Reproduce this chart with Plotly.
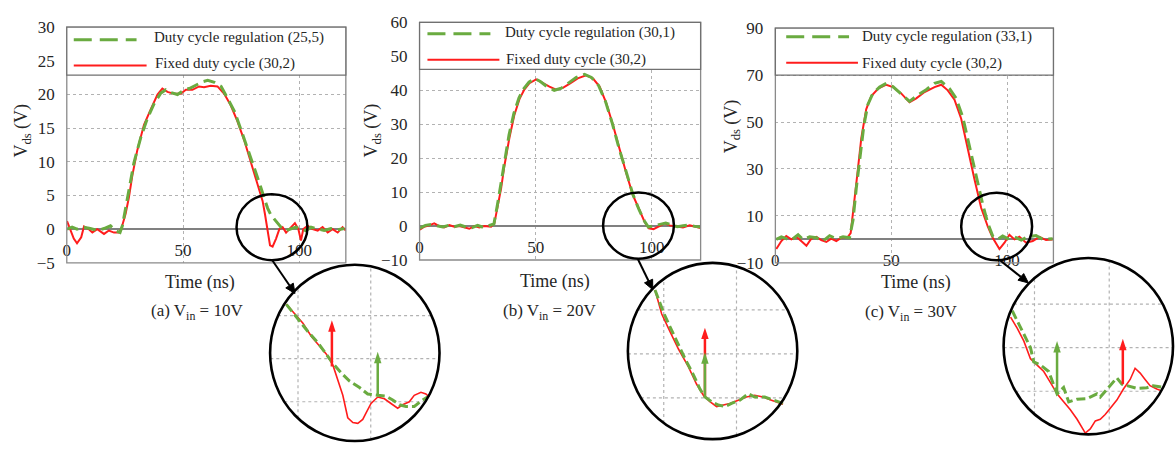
import plotly.graph_objects as go

# ---------------- data ----------------
x_ticks = [0, 50, 100]
y_ticks_a = [-5, 0, 5, 10, 15, 20, 25, 30]
y_ticks_b = [-10, 0, 10, 20, 30, 40, 50, 60]
y_ticks_c = [-10, 10, 30, 50, 70, 90]

legend_reg = ["Duty cycle regulation (25,5)", "Duty cycle regulation (30,1)", "Duty cycle regulation (33,1)"]
legend_fixed = "Fixed duty cycle (30,2)"
captions = ["(a) V<sub>in</sub> = 10V", "(b) V<sub>in</sub> = 20V", "(c) V<sub>in</sub> = 30V"]
x_title = "Time (ns)"
y_title = "V<sub>ds</sub> (V)"

# (a) Vin = 10 V
t_a_fixed = [0.1, 1.6, 3.0, 4.4, 6.2, 7.4, 9.5, 11.0, 13.1, 16.0, 18.1, 20.3, 22.4, 23.4, 25.3, 26.7, 28.2, 30.3, 33.2, 36.1,
             39.0, 41.1, 43.3, 46.2, 49.0, 51.2, 54.0, 56.9, 59.0, 61.9, 64.8, 67.7, 70.5, 73.4, 76.3, 79.2, 82.0, 84.2, 85.2, 86.4,
             87.4, 88.5, 90.0, 91.4, 92.8, 94.3, 96.4, 98.1, 99.6, 100.7, 101.7, 103.6, 105.7, 107.9, 110.0, 112.2, 114.3, 116.5, 118.6, 120.0]
v_a_fixed = [1.2, 0.0, -1.4, -2.1, -1.2, 0.4, 0.0, -0.5, 0.0, -0.7, -0.2, -0.5, -0.5, 0.0, 2.3, 4.7, 8.0, 11.7, 15.5, 17.8,
             20.0, 20.9, 20.4, 20.1, 20.1, 20.7, 20.7, 21.2, 21.1, 21.3, 21.2, 20.1, 18.4, 16.0, 13.2, 9.9, 6.6, 4.2, 2.3, -0.5,
             -2.4, -2.6, -1.4, 0.0, 0.3, -0.5, 0.3, 0.9, 0.0, -1.7, 0.0, 0.5, 0.0, -0.2, 0.3, -0.5, 0.0, -0.5, 0.3, -0.2]
t_a_reg = [0.1, 2.3, 4.4, 7.4, 10.1, 13.1, 16.0, 18.8, 21.0, 22.9, 23.9, 25.3, 26.7, 28.9, 31.8, 34.6, 37.5, 40.4, 42.6, 44.7,
           47.6, 50.5, 52.7, 55.5, 58.4, 60.6, 63.5, 66.4, 69.2, 72.1, 75.0, 77.9, 80.7, 82.9, 85.0, 86.4, 87.8, 90.0, 92.1, 94.3,
           96.4, 98.6, 100.7, 102.9, 105.0, 107.9, 110.7, 113.6, 116.5, 119.4]
v_a_reg = [0.0, 0.3, 0.0, 0.3, 0.1, -0.2, 0.1, 0.5, -0.2, -0.5, 0.5, 3.3, 6.1, 9.9, 13.6, 16.4, 18.6, 20.2, 20.7, 20.3,
           20.0, 20.7, 20.9, 21.4, 21.9, 22.1, 21.8, 21.2, 19.3, 17.5, 14.7, 11.9, 9.1, 6.8, 4.5, 3.1, 2.1, 1.2, 0.3, -0.2,
           0.0, 0.3, 0.0, -0.2, 0.3, 0.0, -0.2, 0.1, -0.1, 0.1]

# (b) Vin = 20 V
t_b_fixed = [0.1, 2.0, 4.2, 6.3, 8.5, 10.6, 12.8, 14.9, 17.1, 19.3, 21.4, 23.6, 25.7, 27.9, 30.8, 32.2, 33.6, 35.1, 36.5, 38.7,
             40.8, 43.0, 45.1, 47.3, 50.2, 53.0, 55.9, 58.8, 61.7, 64.5, 68.1, 71.7, 74.6, 77.5, 80.3, 83.2, 86.1, 88.9, 91.8, 94.7,
             96.9, 98.7, 100.7, 103.3, 105.5, 107.6, 110.5, 113.4, 116.3, 119.1, 121.0]
v_b_fixed = [-1.1, -0.2, 0.2, 0.8, 0.0, -0.4, 0.3, -0.2, 0.0, -0.4, -0.8, 0.0, -0.4, 0.0, -0.2, 0.8, 5.4, 11.1, 17.7, 26.1,
             32.7, 37.4, 40.2, 42.1, 43.2, 42.1, 41.1, 40.2, 40.7, 41.9, 43.5, 44.4, 43.5, 41.1, 36.4, 29.9, 22.3, 15.8, 9.2, 4.5,
             1.2, -0.7, -0.9, 0.0, 0.8, 0.2, -0.2, -0.4, 0.2, -0.2, -0.6]
t_b_reg = [0.1, 2.5, 5.0, 7.5, 10.0, 12.5, 15.0, 17.5, 20.0, 22.5, 25.0, 27.5, 30.0, 32.0, 33.4, 34.9, 36.3, 38.5, 40.6, 42.8,
           44.9, 47.1, 49.5, 52.0, 55.0, 58.0, 61.0, 64.0, 67.5, 71.0, 74.0, 77.0, 80.0, 83.0, 86.0, 89.0, 91.8, 94.5, 96.8, 98.5,
           101.0, 103.5, 106.0, 108.5, 111.0, 113.5, 116.0, 118.5, 121.0]
v_b_reg = [-0.6, 0.2, 0.5, 0.0, -0.3, 0.2, -0.2, 0.3, -0.3, -0.5, 0.2, -0.4, 0.1, 0.6, 5.8, 12.0, 18.5, 26.8, 33.2, 37.8,
           40.5, 42.4, 43.5, 42.6, 41.0, 40.0, 40.6, 42.0, 43.8, 44.7, 43.8, 41.5, 36.8, 30.2, 22.6, 15.9, 9.4, 4.8, 1.5, -0.3,
           0.2, 0.5, 0.9, 0.3, -0.2, 0.1, 0.3, -0.1, -0.3]

# (c) Vin = 30 V
t_c_fixed = [0.4, 2.6, 4.7, 6.9, 9.1, 11.2, 13.4, 15.5, 17.7, 19.8, 22.0, 24.1, 26.3, 28.5, 31.3, 32.5, 34.2, 35.6, 37.1, 39.2,
             41.4, 44.3, 47.9, 50.7, 54.3, 57.9, 60.8, 64.4, 68.7, 71.6, 74.4, 77.3, 80.2, 83.1, 85.9, 88.8, 91.7, 93.8, 96.7, 98.9,
             101.0, 103.2, 105.3, 108.2, 111.1, 114.0, 116.8, 119.7]
v_c_fixed = [-4.1, -0.7, 1.4, 0.0, 1.1, -0.7, -2.7, 0.3, 1.1, -0.3, -1.1, 0.3, -0.7, 0.7, 1.1, 2.7, 16.2, 29.7, 43.2, 55.4,
             61.1, 64.2, 65.9, 64.9, 62.2, 58.4, 60.1, 62.8, 64.9, 65.9, 63.5, 59.5, 51.4, 37.8, 25.7, 13.5, 5.4, 0.7, -4.1, -1.4,
             2.0, 0.0, 1.1, -1.4, -0.7, 1.1, -0.3, 0.0]
t_c_reg = [0.4, 2.6, 4.7, 6.9, 9.8, 11.9, 14.8, 17.7, 20.5, 23.4, 26.3, 29.2, 32.0, 33.5, 34.9, 36.4, 38.2, 39.9, 42.1, 45.0,
           47.9, 50.7, 54.3, 57.9, 61.5, 65.1, 68.7, 71.6, 75.2, 78.0, 80.9, 83.8, 86.7, 89.5, 91.7, 93.8, 96.0, 98.1, 100.3, 103.2,
           106.1, 108.9, 112.5, 115.4, 119.7]
v_c_reg = [0.0, 1.1, 0.3, -0.3, 2.0, 0.0, 1.1, 0.7, -0.7, 1.6, 0.3, 1.1, 0.7, 8.1, 21.6, 35.1, 48.6, 57.4, 62.2, 64.9,
           66.5, 65.1, 61.9, 58.8, 61.5, 63.8, 66.5, 67.3, 64.2, 60.1, 52.0, 39.2, 26.4, 14.9, 6.8, 1.4, 0.0, 1.4, 0.3, 1.1,
           -0.3, 1.1, 1.6, 0.0, 0.3]

# zoomed views (magnified turn-off region, nominal units)
zt_a_fixed = [84.20, 85.12, 85.34, 85.91, 86.49, 86.94, 87.40, 87.74, 88.08, 88.42, 88.77, 89.11, 89.45, 89.68, 90.02, 90.48,
              90.94, 91.39, 91.85, 92.19, 92.65, 92.99, 93.45, 93.79, 94.02]
zv_a_fixed = [2.26, 1.89, 1.82, 1.52, 1.30, 1.11, 0.85, 0.52, 0.15, -0.37, -0.48, -0.50, -0.41, -0.26, -0.04, 0.11,
              0.07, -0.04, -0.15, -0.07, 0.00, 0.15, 0.22, 0.18, 0.11]
zt_a_reg = [84.20, 84.88, 85.68, 86.37, 87.05, 87.40, 87.97, 88.54, 89.23, 89.79, 90.48, 91.05, 91.51, 91.97, 92.42, 92.99, 93.56, 93.90]
zv_a_reg = [2.26, 1.96, 1.63, 1.37, 1.04, 0.89, 0.67, 0.48, 0.33, 0.18, 0.15, 0.13, 0.04, -0.07, -0.11, -0.11, 0.04, 0.11]

zt_b_fixed = [94.40, 94.86, 95.43, 96.01, 96.69, 97.26, 97.72, 98.17, 98.63, 99.09, 99.54, 100.12, 100.68, 101.25, 101.83, 102.40, 103.20]
zv_b_fixed = [4.90, 3.81, 3.01, 2.22, 1.42, 0.62, 0.12, -0.17, -0.39, -0.32, -0.25, -0.10, 0.04, 0.12, 0.04, -0.10, -0.29]
zt_b_reg = [94.40, 94.98, 95.32, 95.89, 96.46, 97.03, 97.49, 97.83, 98.29, 98.75, 99.20, 99.66, 100.23, 100.80, 101.25, 101.94, 102.51, 103.20]
zv_b_reg = [4.90, 3.88, 3.38, 2.58, 1.78, 1.06, 0.40, 0.04, -0.17, -0.32, -0.39, -0.25, -0.10, 0.19, 0.04, 0.04, -0.10, -0.25]

zt_c_fixed = [93.40, 93.85, 94.29, 94.73, 95.18, 95.62, 96.07, 96.51, 96.95, 97.40, 97.85, 98.40, 98.73, 99.07, 99.40, 99.73,
              100.07, 100.51, 100.95, 101.40, 101.73, 102.07, 102.40, 102.73, 103.18, 103.40]
zv_c_fixed = [5.10, 4.33, 3.45, 2.24, 1.80, 1.36, 0.59, -0.18, -0.73, -1.27, -1.93, -2.88, -2.59, -2.04, -1.93, -1.60,
              -1.17, -0.61, 0.15, 0.81, 1.58, 1.25, 0.81, 0.38, 0.15, 0.07]
zt_c_reg = [93.51, 93.73, 94.18, 94.73, 94.95, 95.40, 95.95, 96.40, 96.51, 96.95, 97.29, 97.85, 98.51, 99.18, 99.40, 99.95,
            100.51, 100.85, 101.85, 102.51, 102.95, 103.62]
zv_c_reg = [5.54, 5.10, 4.22, 3.01, 2.02, 1.80, 1.36, 0.15, -0.18, 0.26, -0.73, -0.55, -0.51, -0.18, -0.40, 0.26,
            0.92, 0.48, 0.20, 0.24, 0.38, 0.26]

# marker arrows in the zoomed views: (t, base, head)
zarrow_fixed = [(87.33, 0.82, 1.89), (97.83, 0.04, 3.19), (100.91, 0.48, 3.61)]
zarrow_reg = [(90.48, 0.16, 1.16), (97.83, 0.04, 2.07), (96.51, -0.18, 3.45)]
zgrid_x = [[85, 90], [95, 100], [95, 100]]
zgrid_y = [[0, 1, 2], [0, 2, 4], [0, 3, 6]]

# ---------------- styling / layout ----------------
W, H = 1176, 452
SERIF = "Liberation Serif"
GREEN = "#6aab40"
RED = "#ff1c1c"
GRID = "#b2b2b2"
FRAME = "#8a8a8a"
TEXT = "#262626"

panels = [
    dict(tf=t_a_fixed, vf=v_a_fixed, tr=t_a_reg, vr=v_a_reg, xr=[0, 120], yr=[-5, 30], yt=y_ticks_a,
         xdom=[63 / W, 343 / W], ydom=[1 - 265 / H, 1 - 19 / H], leg_bottom=0.797,
         leg=dict(gs=(0.025, 0.25, 0.947), rs=(0.025, 0.286, 0.837), t1=(0.305, 0.955), t2=(0.308, 0.846)),
         zoom_circle=(73.0, 103.5, -4.6, 5.2),
         zt_f=zt_a_fixed, zv_f=zv_a_fixed, zt_r=zt_a_reg, zv_r=zv_a_reg,
         zxr=[83.082, 94.726], zyr=[-0.911, 3.178], zxdom=[267 / W, 437 / W], zydom=[1 - 451 / H, 1 - 267 / H],
         ytitle=(19, 127), xtitle=(197, 286), cap=(194, 316), arrow=((292, 297), (269, 262))),
    dict(tf=t_b_fixed, vf=v_b_fixed, tr=t_b_reg, vr=v_b_reg, xr=[0, 121], yr=[-10, 60], yt=y_ticks_b,
         xdom=[417 / W, 699 / W], ydom=[1 - 262 / H, 1 - 14 / H], leg_bottom=0.802,
         leg=dict(gs=(0.028, 0.252, 0.952), rs=(0.028, 0.284, 0.843), t1=(0.296, 0.956), t2=(0.299, 0.843)),
         zoom_circle=(79.0, 109.5, -9.6, 9.9),
         zt_f=zt_b_fixed, zv_f=zv_b_fixed, zt_r=zt_b_reg, zv_r=zv_b_reg,
         zxr=[92.534, 104.178], zyr=[-1.870, 6.130], zxdom=[626 / W, 796 / W], zydom=[1 - 449 / H, 1 - 265 / H],
         ytitle=(370, 127), xtitle=(553, 284), cap=(547, 316), arrow=((651, 293), (636, 261))),
    dict(tf=t_c_fixed, vf=v_c_fixed, tr=t_c_reg, vr=v_c_reg, xr=[0, 120], yr=[-10, 90], yt=y_ticks_c,
         xdom=[774 / W, 1053 / W], ydom=[1 - 265 / H, 1 - 20 / H], leg_bottom=0.80,
         leg=dict(gs=(0.039, 0.265, 0.963), rs=(0.039, 0.297, 0.853), t1=(0.306, 0.963), t2=(0.306, 0.849)),
         zoom_circle=(80.2, 110.8, -8.9, 19.9),
         zt_f=zt_c_fixed, zv_f=zv_c_fixed, zt_r=zt_c_reg, zv_r=zv_c_reg,
         zxr=[92.933, 104.267], zyr=[-2.967, 9.165], zxdom=[1003 / W, 1173 / W], zydom=[1 - 444 / H, 1 - 260 / H],
         ytitle=(731, 123), xtitle=(915, 285), cap=(910, 317), arrow=((1028, 286), (999, 262))),
]

fig = go.Figure()
layout = dict(width=W, height=H, margin=dict(l=0, r=0, t=0, b=0), paper_bgcolor="white",
              plot_bgcolor="rgba(0,0,0,0)", showlegend=False, font=dict(family=SERIF, color=TEXT))
shapes, anns = [], []
tickfont = dict(family=SERIF, size=17, color=TEXT)

for i, p in enumerate(panels):
    n = i + 1
    xa = "x" if n == 1 else f"x{n}"
    ya = "y" if n == 1 else f"y{n}"
    m = n + 3
    zxa, zya = f"x{m}", f"y{m}"

    # main traces
    fig.add_trace(go.Scatter(x=p["tf"], y=p["vf"], xaxis=xa, yaxis=ya, mode="lines", name=legend_fixed,
                             line=dict(color=RED, width=2)))
    fig.add_trace(go.Scatter(x=p["tr"], y=p["vr"], xaxis=xa, yaxis=ya, mode="lines", name=legend_reg[i],
                             line=dict(color=GREEN, width=3, dash="12px,6px")))
    # zoomed traces
    fig.add_trace(go.Scatter(x=p["zt_f"], y=p["zv_f"], xaxis=zxa, yaxis=zya, mode="lines", name=legend_fixed,
                             line=dict(color=RED, width=1.6)))
    fig.add_trace(go.Scatter(x=p["zt_r"], y=p["zv_r"], xaxis=zxa, yaxis=zya, mode="lines", name=legend_reg[i],
                             line=dict(color=GREEN, width=3, dash="9px,4px")))
    # arrows in the zoomed view (red first, green on top)
    for (t, b, h), col in ((zarrow_fixed[i], RED), (zarrow_reg[i], GREEN)):
        fig.add_trace(go.Scatter(x=[t, t], y=[b, h], xaxis=zxa, yaxis=zya, mode="lines+markers",
                                 line=dict(color=col, width=2.5),
                                 marker=dict(symbol="arrow", size=12, angleref="previous", color=col),
                                 hoverinfo="skip"))

    y0, y1 = p["yr"]
    pos = p["ydom"][0] + (0 - y0) / (y1 - y0) * (p["ydom"][1] - p["ydom"][0])
    kx = "xaxis" if n == 1 else f"xaxis{n}"
    ky = "yaxis" if n == 1 else f"yaxis{n}"
    layout[kx] = dict(domain=p["xdom"], range=p["xr"], anchor="free", position=pos, tickvals=x_ticks,
                      showgrid=True, gridcolor=GRID, griddash="dot", gridwidth=1, zeroline=False, showline=False,
                      ticks="", ticklabelstandoff=9, tickfont=tickfont, fixedrange=True)
    layout[ky] = dict(domain=p["ydom"], range=p["yr"], anchor=xa, tickvals=p["yt"], showgrid=True,
                      gridcolor=GRID, griddash="dot", gridwidth=1, zeroline=True, zerolinecolor="#808080",
                      zerolinewidth=1.5, showline=False, ticks="", ticklabelstandoff=11, tickfont=tickfont,
                      fixedrange=True)
    layout[f"xaxis{m}"] = dict(domain=p["zxdom"], range=p["zxr"], anchor=zya, showgrid=False, zeroline=False,
                               showticklabels=False, showline=False, ticks="", fixedrange=True)
    layout[f"yaxis{m}"] = dict(domain=p["zydom"], range=p["zyr"], anchor=zxa, showgrid=False, zeroline=False,
                               showticklabels=False, showline=False, ticks="", fixedrange=True)

    # plot frame
    shapes.append(dict(type="rect", xref=f"{xa} domain", yref=f"{ya} domain", x0=0, x1=1, y0=0, y1=1,
                       line=dict(color=FRAME, width=1.3), fillcolor="rgba(0,0,0,0)", layer="above"))
    # legend box
    L = p["leg"]
    shapes.append(dict(type="rect", xref=f"{xa} domain", yref=f"{ya} domain", x0=0, x1=1, y0=p["leg_bottom"], y1=1,
                       line=dict(color="#707070", width=1.3), fillcolor="white", layer="above"))
    shapes.append(dict(type="line", xref=f"{xa} domain", yref=f"{ya} domain", x0=L["gs"][0], x1=L["gs"][1],
                       y0=L["gs"][2], y1=L["gs"][2], line=dict(color=GREEN, width=3, dash="18px,8px"), layer="above"))
    shapes.append(dict(type="line", xref=f"{xa} domain", yref=f"{ya} domain", x0=L["rs"][0], x1=L["rs"][1],
                       y0=L["rs"][2], y1=L["rs"][2], line=dict(color=RED, width=2), layer="above"))
    anns.append(dict(text=legend_reg[i], xref=f"{xa} domain", yref=f"{ya} domain", x=L["t1"][0], y=L["t1"][1],
                     xanchor="left", yanchor="middle", showarrow=False, font=dict(family=SERIF, size=15, color=TEXT)))
    anns.append(dict(text=legend_fixed, xref=f"{xa} domain", yref=f"{ya} domain", x=L["t2"][0], y=L["t2"][1],
                     xanchor="left", yanchor="middle", showarrow=False, font=dict(family=SERIF, size=15, color=TEXT)))

    # small zoom circle on the main plot
    zc = p["zoom_circle"]
    shapes.append(dict(type="circle", xref=xa, yref=ya, x0=zc[0], x1=zc[1], y0=zc[2], y1=zc[3],
                       line=dict(color="black", width=2.5), layer="above"))

    # inset grid chords (clipped to the ellipse)
    cx = sum(p["zxr"]) / 2
    rx = (p["zxr"][1] - p["zxr"][0]) / 2
    cy = sum(p["zyr"]) / 2
    ry = (p["zyr"][1] - p["zyr"][0]) / 2
    for g in zgrid_y[i]:
        hw = rx * max(0.0, 1 - ((g - cy) / ry) ** 2) ** 0.5
        shapes.append(dict(type="line", xref=zxa, yref=zya, x0=cx - hw, x1=cx + hw, y0=g, y1=g,
                           line=dict(color=GRID, width=1.2, dash="dot"), layer="below"))
    for g in zgrid_x[i]:
        hh = ry * max(0.0, 1 - ((g - cx) / rx) ** 2) ** 0.5
        shapes.append(dict(type="line", xref=zxa, yref=zya, x0=g, x1=g, y0=cy - hh, y1=cy + hh,
                           line=dict(color=GRID, width=1.2, dash="dot"), layer="below"))
    # big circle outline
    shapes.append(dict(type="circle", xref="paper", yref="paper", x0=p["zxdom"][0], x1=p["zxdom"][1],
                       y0=p["zydom"][0], y1=p["zydom"][1], line=dict(color="black", width=2.6), layer="above"))

    # pointer arrow from small circle to big circle (line + filled head)
    (hx, hy), (sx, sy) = p["arrow"]
    dx, dy = hx - sx, hy - sy
    ln = (dx * dx + dy * dy) ** 0.5
    ux, uy = dx / ln, dy / ln
    bx, by = hx - 10 * ux, hy - 10 * uy
    px_, py_ = -uy * 4.5, ux * 4.5
    shapes.append(dict(type="line", xref="paper", yref="paper", x0=sx / W, y0=1 - sy / H, x1=bx / W, y1=1 - by / H,
                       line=dict(color="black", width=2), layer="above"))
    head = (f"M{hx / W},{1 - hy / H} L{(bx + px_) / W},{1 - (by + py_) / H} "
            f"L{(bx - px_) / W},{1 - (by - py_) / H} Z")
    shapes.append(dict(type="path", xref="paper", yref="paper", path=head, fillcolor="black",
                       line=dict(color="black", width=1), layer="above"))

    # titles and caption
    tx, ty = p["ytitle"]
    anns.append(dict(text=y_title, xref="paper", yref="paper", x=tx / W, y=1 - ty / H, textangle=-90,
                     xanchor="center", yanchor="middle",
                     showarrow=False, font=dict(family=SERIF, size=18, color=TEXT)))
    tx, ty = p["xtitle"]
    anns.append(dict(text=x_title, xref="paper", yref="paper", x=tx / W, y=1 - ty / H,
                     xanchor="center", yanchor="middle",
                     showarrow=False, font=dict(family=SERIF, size=18, color=TEXT)))
    tx, ty = p["cap"]
    anns.append(dict(text=captions[i], xref="paper", yref="paper", x=tx / W, y=1 - ty / H,
                     xanchor="center", yanchor="middle",
                     showarrow=False, font=dict(family=SERIF, size=17, color=TEXT)))

layout["shapes"] = shapes
layout["annotations"] = anns
fig.update_layout(**layout)
fig.write_html("out.html", config={"displayModeBar": False},
               post_script="document.body.style.margin='0';document.body.style.overflow='hidden';")
